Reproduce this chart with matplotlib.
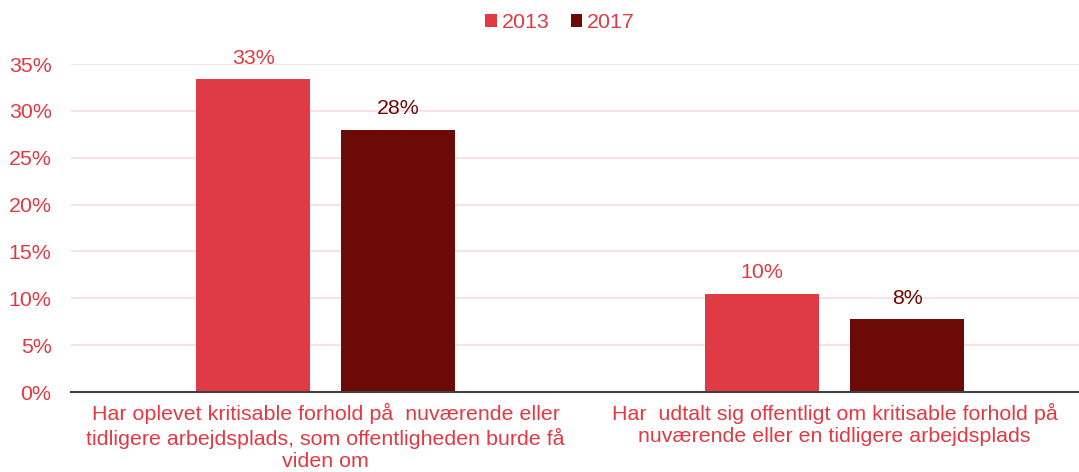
import matplotlib
matplotlib.use("Agg")
import matplotlib.pyplot as plt
import numpy as np
from matplotlib.ticker import PercentFormatter

plt.rcParams['font.family'] = ['Liberation Sans', 'DejaVu Sans']

categories = ["Har oplevet kritisable forhold på  nuværende eller\n"
              "tidligere arbejdsplads, som offentligheden burde få\nviden om",
              "Har  udtalt sig offentligt om kritisable forhold på\n"
              "nuværende eller en tidligere arbejdsplads"]
series = ["2013", "2017"]
values_2013 = [0.334, 0.105]
values_2017 = [0.28, 0.078]
labels_2013 = ["33%", "10%"]
labels_2017 = ["28%", "8%"]

red = "#E03A44"
dark = "#6B0A06"
fs = 15.4

fig = plt.figure(figsize=(10.79, 4.72), dpi=100)
ax = fig.add_axes([71 / 1079, 80 / 472, 1008 / 1079, 328 / 472])

x = np.arange(len(categories))
w = 0.224
off = 0.1424
b1 = ax.bar(x - off, values_2013, w, color=red, label=series[0], zorder=3)
b2 = ax.bar(x + off, values_2017, w, color=dark, label=series[1], zorder=3)

for bars, labs, col in [(b1, labels_2013, red), (b2, labels_2017, dark)]:
    for bar, lab in zip(bars, labs):
        ax.annotate(lab, (bar.get_x() + bar.get_width() / 2, bar.get_height()),
                    xytext=(0, 8), textcoords="offset points",
                    ha="center", va="bottom", color=col, fontsize=fs)

ax.set_xlim(-0.5, 1.48)
ax.set_ylim(0, 0.35)
ax.set_yticks(np.arange(0, 0.36, 0.05))
ax.yaxis.set_major_formatter(PercentFormatter(1.0, decimals=0))
ax.set_xticks(x)
ax.set_xticklabels(categories, linespacing=1.2)
ax.tick_params(axis="both", length=0, labelsize=fs, colors=red)
ax.tick_params(axis="y", pad=14)
ax.tick_params(axis="x", pad=8)
ax.grid(axis="y", color="#F8DDE0", linewidth=1.2, zorder=0)
for s in ["top", "right", "left"]:
    ax.spines[s].set_visible(False)
ax.spines["bottom"].set_color("#404040")
ax.spines["bottom"].set_linewidth(1.5)
ax.spines["bottom"].set_zorder(4)

leg = fig.legend(loc="upper center", bbox_to_anchor=(0.519, 1.014), ncol=2,
                 frameon=False, fontsize=fs, handlelength=0.55, handleheight=0.55,
                 handletextpad=0.2, columnspacing=1.0)
for t in leg.get_texts():
    t.set_color(red)

fig.savefig("out.png", dpi=100)
